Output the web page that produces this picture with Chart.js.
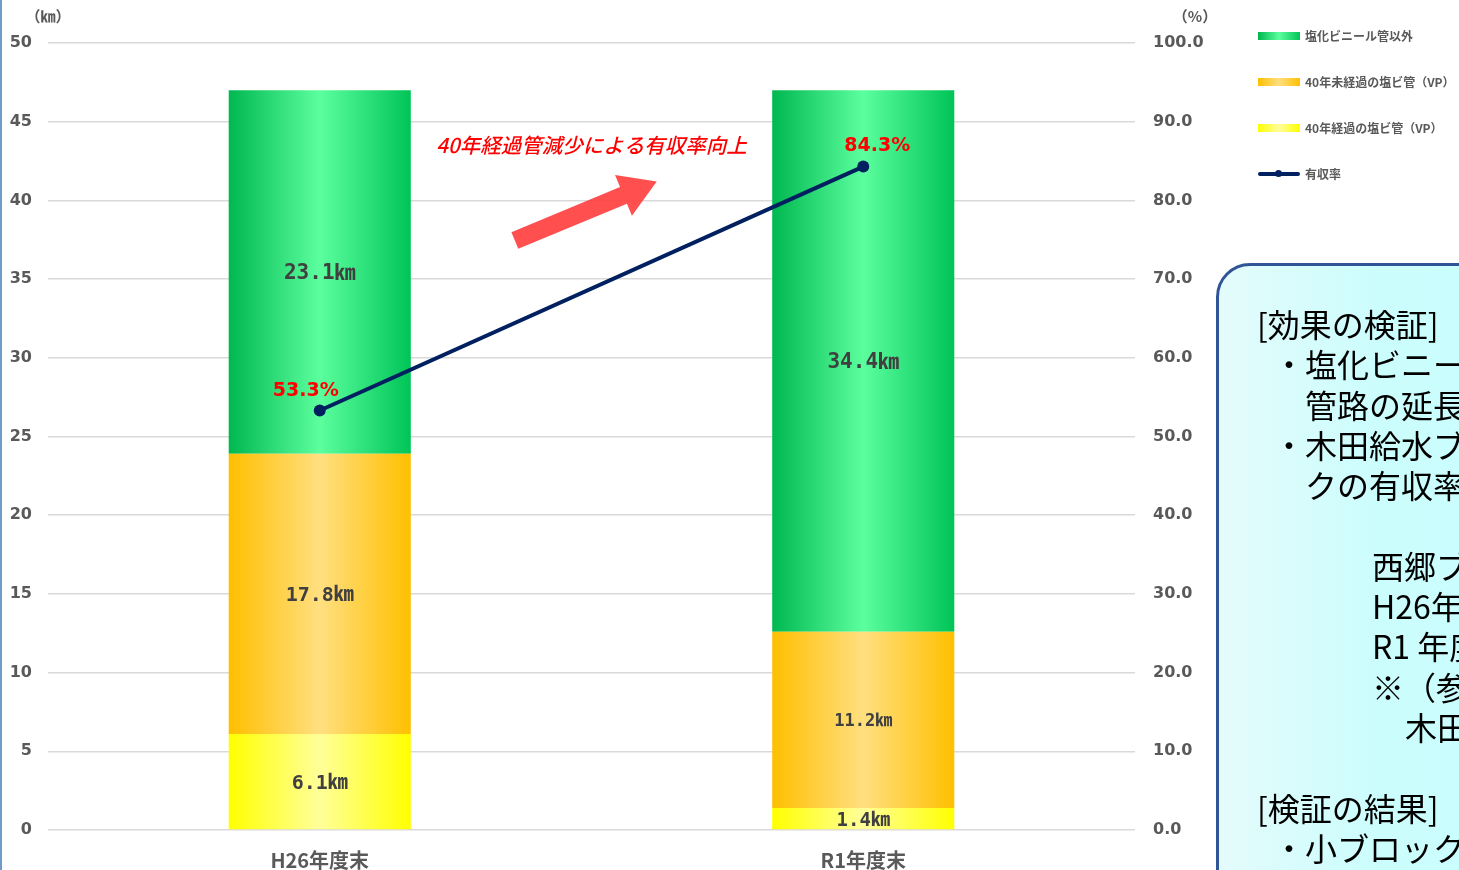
<!DOCTYPE html>
<html lang="ja">
<head>
<meta charset="utf-8">
<script src="https://cdn.jsdelivr.net/npm/chart.js@4.4.1/dist/chart.umd.min.js"></script>
<style>
  html, body { margin: 0; padding: 0; width: 1459px; height: 870px; overflow: hidden; background: #fff; }
  body { position: relative; }
  #edge { position: absolute; left: 0; top: 0; width: 2px; height: 870px; background: #6f9bc9; z-index: 5; }
  #wrap { position: absolute; left: 0; top: 0; width: 1459px; height: 870px; }
  #legend { position: absolute; left: 1258px; top: 0; font: bold 12px "Noto Sans CJK JP", sans-serif; color: #595959; }
  #legend .item { position: absolute; left: 0; white-space: nowrap; height: 16px; }
  #legend .sw { position: absolute; left: 0; top: 4px; width: 42px; height: 8px; }
  #legend .txt { position: absolute; left: 47px; top: -1px; }
  #box { position: absolute; left: 1216px; top: 263px; width: 400px; height: 700px;
    border: 3px solid #2f5597; border-radius: 34px 0 0 0; box-sizing: border-box;
    background: linear-gradient(90deg, #e4fbfb 0%, #ccfdfd 40%, #c8ffff 100%);
    padding-top: 37px; padding-left: 38px; font: 32px "Noto Sans CJK JP", sans-serif; color: #000; }
  #box div { height: 40.3px; line-height: 40.3px; white-space: nowrap; }
</style>
</head>
<body>
<div id="edge"></div>
<div id="wrap"><canvas id="myChart" width="1459" height="870"></canvas></div>
<div id="legend"></div>
<div id="box">
  <div>[効果の検証]</div>
  <div style="margin-left:16px">・塩化ビニール</div>
  <div style="margin-left:48px">管路の延長</div>
  <div style="margin-left:16px">・木田給水ブロッ</div>
  <div style="margin-left:48px">クの有収率</div>
  <div></div>
  <div style="margin-left:115px">西郷ブロ</div>
  <div style="margin-left:115px">H26年度</div>
  <div style="margin-left:115px">R1 年度</div>
  <div style="margin-left:115px">※（参考</div>
  <div style="margin-left:148px">木田</div>
  <div></div>
  <div>[検証の結果]</div>
  <div style="margin-left:16px">・小ブロック</div>
</div>
<script>
// data
const categories = ['H26年度末', 'R1年度末'];
const over40 = [6.1, 1.4];        // 40年経過の塩ビ管（VP）
const under40 = [17.8, 11.2];     // 40年未経過の塩ビ管（VP）
const nonVinyl = [23.1, 34.4];    // 塩化ビニール管以外
const rate = [53.3, 84.3];        // 有収率
const kmTicks = [0, 50, 5];
const pctTicks = [0, 100, 10];

const seriesNames = ['40年経過の塩ビ管（VP）', '40年未経過の塩ビ管（VP）', '塩化ビニール管以外', '有収率'];
const BAR_PCT = 0.335;

const greenStops = ['#00b850', '#5cff9e', '#00c457'];
const orangeStops = ['#ffbf00', '#ffdf80', '#ffc000'];
const yellowStops = ['#ffff00', '#ffff9a', '#ffff00'];

function barGradient(stops) {
  return function (context) {
    const chart = context.chart;
    const area = chart.chartArea;
    if (!area || !chart.scales.x) return stops[0];
    const x = chart.scales.x.getPixelForValue(context.dataIndex);
    const half = (area.right - area.left) / categories.length * BAR_PCT / 2;
    const g = chart.ctx.createLinearGradient(x - half, 0, x + half, 0);
    g.addColorStop(0, stops[0]);
    g.addColorStop(0.5, stops[1]);
    g.addColorStop(1, stops[2]);
    return g;
  };
}

// html legend
const legend = document.getElementById('legend');
const legendRows = [
  { text: '塩化ビニール管以外', css: 'linear-gradient(90deg,#00b850,#5cff9e,#00c457)', top: 28 },
  { text: '40年未経過の塩ビ管（VP）', css: 'linear-gradient(90deg,#ffbf00,#ffdf80,#ffc000)', top: 74 },
  { text: '40年経過の塩ビ管（VP）', css: 'linear-gradient(90deg,#ffff00,#ffff9a,#ffff00)', top: 120 },
  { text: '有収率', css: null, top: 166 }
];
legendRows.forEach(r => {
  const item = document.createElement('div');
  item.className = 'item';
  item.style.top = r.top + 'px';
  if (r.css) {
    item.innerHTML = '<span class="sw" style="background:' + r.css + '"></span>';
  } else {
    item.innerHTML = '<span class="sw" style="top:6px;height:4px;border-radius:2px;background:#002060"></span>' +
      '<span style="position:absolute;left:17px;top:4px;width:7px;height:7px;border-radius:50%;background:#002060"></span>';
  }
  item.innerHTML += '<span class="txt">' + r.text + '</span>';
  legend.appendChild(item);
});

// labels inside bars, line value labels, axis units, arrow note
const labelPlugin = {
  id: 'labels',
  afterDatasetsDraw(chart) {
    const ctx = chart.ctx;
    const sizes = [[20, 19], [20, 17], [21, 21]];
    ctx.save();
    ctx.textAlign = 'center';
    ctx.textBaseline = 'middle';
    ctx.fillStyle = '#404040';
    [0, 1, 2].forEach(di => {
      const meta = chart.getDatasetMeta(di);
      meta.data.forEach((bar, i) => {
        const v = chart.data.datasets[di].data[i];
        ctx.font = 'bold ' + sizes[di][i] + 'px "DejaVu Sans Mono", "Noto Sans CJK JP", monospace';
        ctx.fillText(v.toFixed(1) + '㎞', bar.x, (bar.y + bar.base) / 2 + 2);
      });
    });
    const lineMeta = chart.getDatasetMeta(3);
    const offs = [[-14, -19], [14, -20]];
    ctx.fillStyle = '#ff0000';
    ctx.font = 'bold 19px "DejaVu Sans", sans-serif';
    lineMeta.data.forEach((pt, i) => {
      ctx.fillText(rate[i].toFixed(1) + '%', pt.x + offs[i][0], pt.y + offs[i][1]);
    });
    ctx.restore();
  },
  afterDraw(chart) {
    const ctx = chart.ctx;
    const x = chart.scales.x, y = chart.scales.y;
    ctx.save();
    ctx.fillStyle = '#595959';
    ctx.font = 'bold 15px "Noto Sans CJK JP", sans-serif';
    ctx.textAlign = 'center';
    ctx.textBaseline = 'middle';
    ctx.fillText('（㎞）', 48, 16);
    ctx.fillText('（%）', 1195, 16);

    // note text
    ctx.fillStyle = '#ff0000';
    ctx.font = 'italic 500 20.5px "Noto Sans CJK JP", sans-serif';
    ctx.fillText('40年経過管減少による有収率向上', x.getPixelForValue(0.5), y.getPixelForValue(43.5));

    // arrow
    const x0 = x.getPixelForValue(0.359), y0 = y.getPixelForValue(37.45);
    const x1 = x.getPixelForValue(0.62), y1 = y.getPixelForValue(41.2);
    const ang = Math.atan2(y1 - y0, x1 - x0);
    const len = Math.hypot(x1 - x0, y1 - y0);
    ctx.translate(x0, y0);
    ctx.rotate(ang);
    ctx.fillStyle = 'rgba(255, 60, 60, 0.9)';
    ctx.beginPath();
    ctx.moveTo(0, -9);
    ctx.lineTo(len - 36, -9);
    ctx.lineTo(len - 36, -22);
    ctx.lineTo(len, 0);
    ctx.lineTo(len - 36, 22);
    ctx.lineTo(len - 36, 9);
    ctx.lineTo(0, 9);
    ctx.closePath();
    ctx.fill();
    ctx.restore();
  }
};

const tickFont = { family: '"DejaVu Sans", sans-serif', size: 16, weight: 'bold' };

const myChart = new Chart(document.getElementById('myChart'), {
  data: {
    labels: categories,
    datasets: [
      { type: 'bar', label: seriesNames[0], data: over40, backgroundColor: barGradient(yellowStops), order: 1, yAxisID: 'y' },
      { type: 'bar', label: seriesNames[1], data: under40, backgroundColor: barGradient(orangeStops), order: 1, yAxisID: 'y' },
      { type: 'bar', label: seriesNames[2], data: nonVinyl, backgroundColor: barGradient(greenStops), order: 1, yAxisID: 'y' },
      { type: 'line', label: seriesNames[3], data: rate, yAxisID: 'y2', order: 0,
        borderColor: '#002060', backgroundColor: '#002060', borderWidth: 4,
        pointRadius: 6, pointHoverRadius: 6, pointBackgroundColor: '#002060', pointBorderWidth: 0 }
    ]
  },
  options: {
    responsive: false,
    animation: false,
    events: [],
    datasets: { bar: { barPercentage: BAR_PCT, categoryPercentage: 1 } },
    layout: { padding: { top: 43, right: 234, bottom: 0, left: 0 } },
    plugins: { legend: { display: false }, tooltip: { enabled: false } },
    scales: {
      x: {
        stacked: true,
        grid: { display: false },
        border: { display: false },
        ticks: { color: '#595959', font: { family: '"Noto Sans CJK JP", sans-serif', size: 20, weight: 'bold' }, padding: 10 },
        afterFit(s) { s.height = 40; }
      },
      y: {
        stacked: true,
        position: 'left',
        min: kmTicks[0], max: kmTicks[1],
        ticks: { stepSize: kmTicks[2], color: '#595959', font: tickFont, padding: 16 },
        grid: { color: '#d9d9d9', lineWidth: 1.5, drawTicks: false },
        border: { display: false },
        afterFit(s) { s.width = 48; }
      },
      y2: {
        stacked: false,
        position: 'right',
        min: pctTicks[0], max: pctTicks[1],
        ticks: { stepSize: pctTicks[2], color: '#595959', font: tickFont, padding: 18,
          callback: v => Number(v).toFixed(1) },
        grid: { display: false, drawTicks: false },
        border: { display: false },
        afterFit(s) { s.width = 90; }
      }
    }
  },
  plugins: [labelPlugin]
});
</script>
</body>
</html>
